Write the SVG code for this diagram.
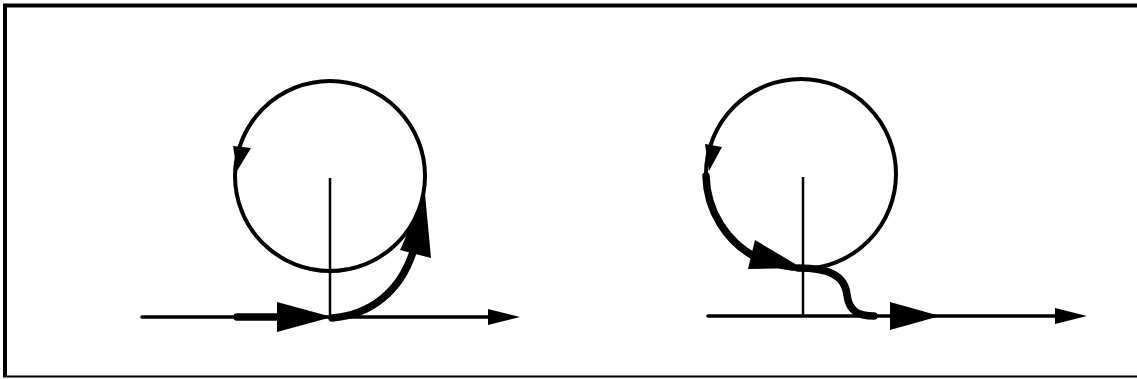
<svg xmlns="http://www.w3.org/2000/svg" width="1137" height="379" viewBox="0 0 1137 379">
<style>
.frame{stroke:#000;fill:none}
.circ{fill:none;stroke:#000;stroke-width:4}
.axis{stroke:#000;stroke-width:2.5;fill:none}
.base{stroke:#000;stroke-width:3.5;fill:none;stroke-linecap:round}
.thick{stroke:#000;stroke-width:7.5;fill:none;stroke-linecap:round}
.head{fill:#000;stroke:none}
</style>
<rect width="1137" height="379" fill="#fff"/>
<g id="frame">
<line class="frame" x1="3" y1="5.5" x2="1137" y2="5.5" stroke-width="4"/>
<line class="frame" x1="5" y1="4" x2="5" y2="377" stroke-width="4"/>
<line class="frame" x1="3" y1="376.5" x2="1137" y2="376.5" stroke-width="2"/>
</g>
<g id="left-figure">
<circle class="circ" cx="330" cy="176" r="95"/>
<polygon class="head" points="233,146 251,148 237,171"/>
<line class="axis" x1="330" y1="178" x2="330" y2="315"/>
</g>
<g id="right-figure">
<circle class="circ" cx="801" cy="174" r="95"/>
<polygon class="head" points="705,144 722,147 709,171"/>
<line class="axis" x1="803" y1="177" x2="803" y2="315"/>
</g>
<g id="connectors">
<line class="base" x1="142" y1="317" x2="492" y2="317"/>
<polygon class="head" points="488,309 520,317 488,325"/>
<line class="thick" x1="237" y1="317" x2="280" y2="317" stroke-linecap="butt"/>
<polygon class="head" points="277,302 332,317 277,332"/>
<path class="thick" d="M332,318 C370,315 400,292 413,252"/>
<polygon class="head" points="400,250 425,194 431,258"/>
<line class="base" x1="708" y1="316" x2="1060" y2="316"/>
<polygon class="head" points="1055,308 1087,316 1055,324"/>
<polygon class="head" points="890,302 940,316 890,330"/>
<path class="thick" d="M706,176 A95,95 0 0 0 757,258"/>
<polygon class="head" points="755,240 748,269 802,268"/>
<path class="thick" d="M798,268 C830,268 845,276 847,295 C849,311 858,316 874,316"/>
</g>
</svg>
